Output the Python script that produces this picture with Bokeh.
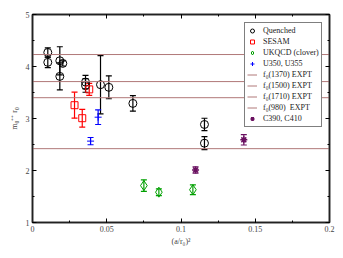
from bokeh.plotting import figure
from bokeh.models import (ColumnDataSource, Whisker, TeeHead, LinearAxis, Range1d,
                          FixedTicker, CustomJSTickFormatter, Legend, LegendItem)
from bokeh.embed import file_html
from bokeh.resources import INLINE

# ---- data ----
quenched_x = [0.0103, 0.0103, 0.0184, 0.0184, 0.0204, 0.0357, 0.0357, 0.0458, 0.0514, 0.0676, 0.1158, 0.1158]
quenched_y = [4.27, 4.08, 4.11, 3.81, 4.06, 3.70, 3.635, 3.65, 3.60, 3.29, 2.885, 2.525]
quenched_e = [0.09, 0.10, 0.27, 0.26, 0.05, 0.13, 0.13, 0.56, 0.22, 0.15, 0.12, 0.125]

sesam_x = [0.0283, 0.0335, 0.0382]
sesam_y = [3.256, 3.006, 3.56]
sesam_e = [0.25, 0.17, 0.115]

ukqcd_x = [0.075, 0.0851, 0.108]
ukqcd_y = [1.71, 1.583, 1.63]
ukqcd_e = [0.11, 0.065, 0.095]

u350_x = [0.0442, 0.0391]
u350_y = [3.025, 2.565]
u350_e = [0.14, 0.07]

c390_x = [0.1098, 0.1423]
c390_y = [2.01, 2.59]
c390_e = [0.06, 0.10]

f0_labels = ["f\u2080(1370) EXPT", "f\u2080(1500) EXPT", "f\u2080(1710) EXPT", "f\u2080(980)  EXPT"]
f0_values = [3.40, 3.71, 4.23, 2.42]

x_limits = [0.0, 0.2]
y_limits = [1.0, 5.0]
x_ticks = [0, 0.05, 0.1, 0.15, 0.2]
x_tick_labels = ["0", "0.05", "0.1", "0.15", "0.2"]
y_ticks = [1, 2, 3, 4, 5]

SERIF = "Liberation Serif"

p = figure(width=340, height=255, output_backend="svg", toolbar_location=None,
           x_range=Range1d(*x_limits), y_range=Range1d(*y_limits),
           min_border_left=32, min_border_right=11, min_border_top=14, min_border_bottom=33)
p.background_fill_color = "white"
p.border_fill_color = "white"
p.outline_line_color = "black"
p.outline_line_width = 1.5
p.xgrid.visible = False
p.ygrid.visible = False

def style_axis(ax):
    ax.major_tick_in = 4
    ax.major_tick_out = 0
    ax.minor_tick_in = 2
    ax.minor_tick_out = 0
    ax.axis_line_color = "#222222"
    ax.axis_line_width = 1.5
    ax.major_tick_line_color = "black"
    ax.minor_tick_line_color = "black"
    ax.major_label_text_font = SERIF
    ax.major_label_text_font_size = "8px"
    ax.major_label_text_color = "#444444"
    ax.axis_label_text_font = SERIF
    ax.axis_label_text_font_size = "8px"
    ax.axis_label_text_font_style = "normal"
    ax.axis_label_text_color = "#444444"
    ax.major_label_standoff = 3

xt = FixedTicker(ticks=x_ticks, minor_ticks=[i * 0.025 for i in range(9)])
yt = FixedTicker(ticks=y_ticks, minor_ticks=[1 + i * 0.5 for i in range(9)])

p.xaxis.ticker = xt
p.yaxis.ticker = yt
p.xaxis.major_label_overrides = {t: l for t, l in zip(x_ticks, x_tick_labels)}
for ax in p.xaxis + p.yaxis:
    style_axis(ax)
p.xaxis.axis_label = "(a/r\u2080)\u00b2"
p.yaxis.axis_label = "m\u2080\u207a\u207a r\u2080"
p.xaxis.axis_label_standoff = 2
p.yaxis.axis_label_standoff = 4

empty = CustomJSTickFormatter(code="return ''")
ax_top = LinearAxis(ticker=xt, formatter=empty)
ax_right = LinearAxis(ticker=yt, formatter=empty)
for ax in (ax_top, ax_right):
    style_axis(ax)
    ax.major_label_standoff = 0
p.add_layout(ax_top, "above")
p.add_layout(ax_right, "right")

def series(xs, ys, es, color, marker, size, fill=None, lw=1.0):
    src = ColumnDataSource(dict(x=xs, y=ys, lo=[a - b for a, b in zip(ys, es)],
                                hi=[a + b for a, b in zip(ys, es)]))
    w = Whisker(source=src, base="x", lower="lo", upper="hi", line_color=color, line_width=1.2,
                upper_head=TeeHead(size=6, line_color=color, line_width=1.2),
                lower_head=TeeHead(size=6, line_color=color, line_width=1.2))
    p.add_layout(w)
    r = p.scatter("x", "y", source=src, marker=marker, size=size, line_color=color,
                  fill_color=fill, line_width=lw)
    return r

r_q = series(quenched_x, quenched_y, quenched_e, "black", "circle", 8)
r_s = series(sesam_x, sesam_y, sesam_e, "#ff0000", "square", 7)
r_u = series(ukqcd_x, ukqcd_y, ukqcd_e, "#00a000", "diamond", 10)
r_b = series(u350_x, u350_y, u350_e, "#0000ff", "cross", 7)

line_rs = []
for lab, v in zip(f0_labels, f0_values):
    lr = p.line(x_limits, [v, v], line_color="#b07878", line_width=1)
    line_rs.append(lr)

r_c = series(c390_x, c390_y, c390_e, "#6a1060", "asterisk", 7, lw=1.5)

items = [LegendItem(label="Quenched", renderers=[r_q]),
         LegendItem(label="SESAM", renderers=[r_s]),
         LegendItem(label="UKQCD (clover)", renderers=[r_u]),
         LegendItem(label="U350, U355", renderers=[r_b])]
for lab, lr in zip(f0_labels, line_rs):
    items.append(LegendItem(label=lab, renderers=[lr]))
items.append(LegendItem(label="C390, C410", renderers=[r_c]))

leg = Legend(items=items, location=(212, 95), margin=0, padding=2, spacing=0,
             label_height=11, glyph_height=11, glyph_width=10, label_standoff=6,
             label_text_font=SERIF, label_text_font_size="8px", label_text_color="#222222",
             border_line_color="black", border_line_width=1.5,
             background_fill_color="white", background_fill_alpha=1.0)
p.add_layout(leg)

open("out.html", "w").write(file_html(p, INLINE))
